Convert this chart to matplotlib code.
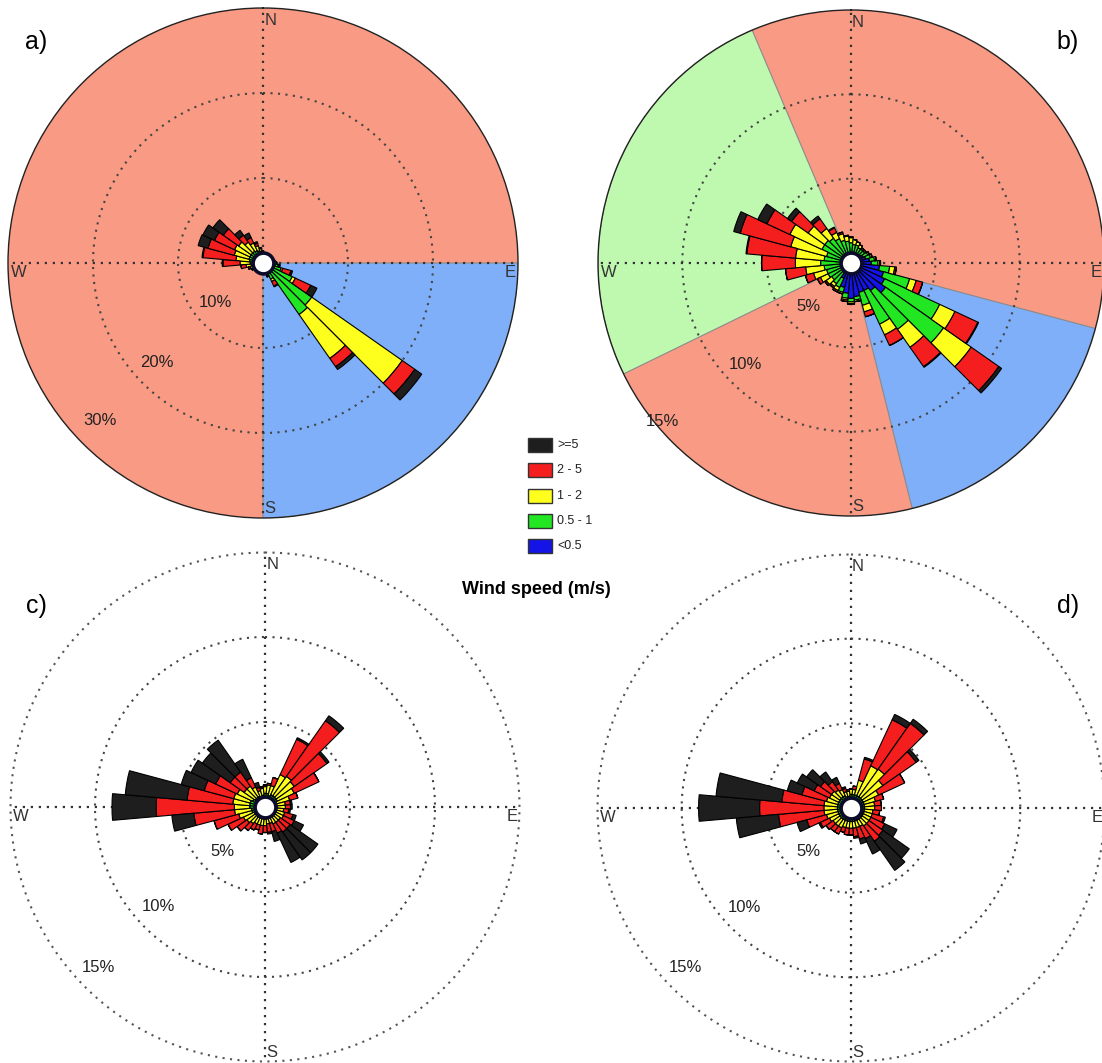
import numpy as np
import matplotlib
matplotlib.use("Agg")
import matplotlib.pyplot as plt
from matplotlib.patches import Rectangle

plt.rcParams['font.family'] = ['Liberation Sans', 'DejaVu Sans']

W, H = 1102, 1063

# ---- Data: frequency (%) per 10-degree sector, one list per speed class ----
DIRS = np.arange(0, 360, 10)
CLASSES = ["<0.5", "0.5 - 1", "1 - 2", "2 - 5", ">=5"]
COLORS = ["#1414e6", "#22e622", "#ffff1e", "#f41e1e", "#1e1e1e"]

# a)
a_lt05 = [1.0, 1.0, 0.9, 0.9, 0.9, 1.0, 1.0, 1.1, 1.2, 1.3, 1.4, 1.4, 1.4, 1.4, 1.4, 1.3, 1.2, 1.1,
          1.0, 1.0, 0.9, 0.9, 0.9, 0.9, 0.9, 0.9, 0.9, 0.9, 0.9, 0.9, 0.9, 0.9, 0.9, 0.9, 1.0, 1.0]
a_05_1 = [0.3, 0.2, 0.2, 0.2, 0.2, 0.2, 0.2, 0.2, 0.2, 0.3, 0.4, 0.8, 2.4, 5.6, 6.0, 0.8, 0.3, 0.2,
          0.2, 0.2, 0.2, 0.2, 0.2, 0.2, 0.3, 0.4, 0.5, 0.6, 0.7, 0.8, 0.8, 0.8, 0.8, 0.7, 0.5, 0.4]
a_1_2 = [0.1, 0.0, 0.0, 0.0, 0.0, 0.0, 0.0, 0.0, 0.0, 0.0, 0.1, 0.2, 0.4, 13.0, 6.3, 0.3, 0.1, 0.0,
         0.0, 0.0, 0.0, 0.0, 0.0, 0.1, 0.2, 0.3, 0.6, 1.2, 1.6, 1.8, 2.0, 1.8, 1.3, 1.0, 0.6, 0.3]
a_2_5 = [0.0, 0.0, 0.0, 0.0, 0.0, 0.0, 0.0, 0.0, 0.0, 0.0, 0.1, 1.0, 2.0, 1.8, 1.2, 0.6, 0.1, 0.0,
         0.0, 0.0, 0.0, 0.0, 0.0, 0.0, 0.1, 0.2, 0.6, 2.0, 3.9, 3.2, 2.6, 2.2, 1.0, 0.7, 0.3, 0.1]
a_ge5 = [0.0, 0.0, 0.0, 0.0, 0.0, 0.0, 0.0, 0.0, 0.0, 0.0, 0.0, 0.2, 0.8, 1.0, 0.4, 0.1, 0.0, 0.0,
         0.0, 0.0, 0.0, 0.0, 0.0, 0.0, 0.0, 0.0, 0.0, 0.1, 0.1, 1.2, 1.5, 1.5, 0.7, 0.6, 0.2, 0.0]

# b)
b_lt05 = [0.6, 0.6, 0.6, 0.6, 0.6, 0.7, 0.8, 0.9, 1.1, 1.2, 1.7, 2.0, 2.2, 2.5, 2.0, 1.8, 1.8, 2.0,
          2.1, 1.8, 1.5, 1.0, 0.7, 0.6, 0.6, 0.6, 0.6, 0.6, 0.6, 0.6, 0.6, 0.6, 0.6, 0.6, 0.6, 0.6]
b_05_1 = [0.6, 0.5, 0.5, 0.4, 0.4, 0.3, 0.3, 0.3, 0.3, 0.4, 0.6, 1.6, 3.6, 4.2, 2.8, 2.2, 0.8, 0.2,
          0.2, 0.3, 0.3, 0.6, 0.8, 0.8, 0.9, 0.9, 1.0, 1.2, 1.0, 0.9, 1.3, 1.3, 1.2, 1.0, 0.8, 0.7]
b_1_2 = [0.3, 0.3, 0.2, 0.2, 0.1, 0.1, 0.1, 0.1, 0.1, 0.1, 0.3, 0.4, 1.0, 2.0, 1.3, 0.7, 0.4, 0.1,
         0.1, 0.1, 0.1, 0.2, 0.2, 0.4, 0.5, 0.8, 1.1, 1.5, 1.7, 2.2, 2.1, 1.2, 0.7, 0.4, 0.4, 0.3]
b_2_5 = [0.05, 0.0, 0.0, 0.0, 0.0, 0.0, 0.0, 0.0, 0.0, 0.05, 0.1, 0.4, 1.5, 2.0, 1.4, 0.7, 0.3, 0.0,
         0.05, 0.1, 0.0, 0.1, 0.1, 0.1, 0.2, 0.5, 1.2, 2.0, 2.9, 3.1, 1.5, 1.2, 0.7, 0.3, 0.1, 0.05]
b_ge5 = [0.0, 0.0, 0.0, 0.0, 0.0, 0.0, 0.0, 0.0, 0.0, 0.0, 0.0, 0.0, 0.05, 0.2, 0.05, 0.0, 0.0, 0.0,
         0.0, 0.0, 0.0, 0.0, 0.0, 0.0, 0.0, 0.0, 0.0, 0.0, 0.05, 0.4, 0.6, 0.3, 0.2, 0.05, 0.0, 0.0]

# c)
c_lt05 = [0.3] * 36
c_05_1 = [0.5, 0.5, 0.4, 0.5, 0.5, 0.5, 0.5, 0.4, 0.4, 0.4, 0.4, 0.4, 0.4, 0.4, 0.4, 0.4, 0.4, 0.4,
          0.4, 0.4, 0.4, 0.4, 0.4, 0.4, 0.4, 0.5, 0.5, 0.6, 0.6, 0.6, 0.5, 0.4, 0.4, 0.4, 0.3, 0.4]
c_1_2 = [0.4, 0.5, 0.6, 1.3, 1.4, 1.3, 1.1, 0.8, 0.5, 0.5, 0.4, 0.5, 0.5, 0.4, 0.4, 0.4, 0.3, 0.3,
         0.4, 0.4, 0.4, 0.4, 0.5, 0.6, 0.7, 0.8, 1.0, 0.9, 1.0, 1.0, 1.0, 0.8, 0.8, 0.6, 0.4, 0.4]
c_2_5 = [0.1, 0.1, 0.5, 2.3, 4.0, 2.35, 1.6, 0.5, 0.3, 0.3, 0.3, 0.5, 0.7, 0.7, 0.7, 0.6, 0.5, 0.5,
         0.4, 0.5, 0.3, 0.4, 0.5, 0.7, 1.0, 1.5, 2.4, 4.6, 2.7, 1.8, 1.4, 1.0, 1.0, 0.6, 0.2, 0.1]
c_ge5 = [0.0, 0.0, 0.0, 0.1, 0.35, 0.15, 0.0, 0.0, 0.1, 0.1, 0.1, 0.2, 0.6, 2.0, 2.0, 1.9, 0.6, 0.1,
         0.0, 0.0, 0.0, 0.0, 0.0, 0.0, 0.0, 0.0, 1.3, 2.6, 3.65, 1.4, 1.6, 2.0, 2.3, 1.2, 0.3, 0.0]

# d)
d_lt05 = [0.3] * 36
d_05_1 = [0.5, 0.5, 0.5, 0.5, 0.5, 0.5, 0.5, 0.5, 0.5, 0.5, 0.5, 0.5, 0.5, 0.5, 0.5, 0.5, 0.5, 0.5,
          0.5, 0.5, 0.5, 0.5, 0.5, 0.5, 0.5, 0.5, 0.5, 0.5, 0.5, 0.5, 0.5, 0.5, 0.5, 0.5, 0.4, 0.4]
d_1_2 = [0.3, 0.3, 0.9, 1.95, 2.0, 1.5, 1.0, 0.7, 0.6, 0.6, 0.5, 0.5, 0.5, 0.5, 0.5, 0.4, 0.4, 0.4,
         0.4, 0.4, 0.4, 0.5, 0.5, 0.5, 0.6, 0.7, 0.8, 0.8, 0.8, 0.7, 0.6, 0.6, 0.5, 0.4, 0.3, 0.3]
d_2_5 = [0.05, 0.2, 1.3, 3.0, 3.3, 2.4, 1.7, 0.5, 0.4, 0.4, 0.4, 0.7, 0.9, 1.0, 1.1, 0.8, 0.7, 0.5,
         0.4, 0.4, 0.3, 0.4, 0.4, 0.5, 0.6, 1.2, 2.7, 3.8, 2.5, 1.5, 1.0, 0.8, 0.6, 0.4, 0.2, 0.1]
d_ge5 = [0.0, 0.0, 0.1, 0.35, 0.3, 0.2, 0.0, 0.0, 0.0, 0.0, 0.0, 0.1, 0.8, 1.9, 2.1, 1.0, 0.3, 0.1,
         0.0, 0.0, 0.0, 0.0, 0.0, 0.0, 0.1, 0.6, 2.5, 3.6, 3.9, 0.9, 1.1, 1.0, 0.7, 0.4, 0.1, 0.0]

SALMON = "#f99a84"
BLUE_BG = "#7eaff8"
GREEN_BG = "#bff9b0"

# background sectors (start deg, end deg, colour)
a_sectors = [(90, 180, BLUE_BG)]
b_sectors = [(105, 166, BLUE_BG), (244, 337, GREEN_BG)]


def px_rect(cx, cy, r):
    return [(cx - r) / W, 1 - (cy + r) / H, 2 * r / W, 2 * r / H]


DOT = (0, (1, 2.6))


def draw_rose(rect, stacks, rmax, rings, lab_r, lab_ang, bg, sectors, tag, tag_xy):
    ax = fig.add_axes(rect, projection="polar")
    ax.set_theta_zero_location("N")
    ax.set_theta_direction(-1)
    ax.set_ylim(0, rmax)
    ax.set_xticks([])
    ax.set_yticks([])
    ax.grid(False)
    th = np.linspace(0, 2 * np.pi, 400)
    if bg is not None:
        ax.set_facecolor(bg)
        ax.spines["polar"].set_color("#222222")
        ax.spines["polar"].set_linewidth(1.0)
    else:
        ax.set_facecolor("none")
        ax.spines["polar"].set_visible(False)
        ax.plot(th, np.full_like(th, rmax * 0.998), ls=DOT, color="#555555", lw=1.5,
                clip_on=False, zorder=1)
    for s, e, col in sectors:
        ax.bar(np.deg2rad((s + e) / 2), rmax, width=np.deg2rad(e - s), bottom=0,
               color=col, edgecolor="#8a8a8a", linewidth=0.8, zorder=0.5)
    for r in rings[:-1]:
        ax.plot(th, np.full_like(th, r), ls=DOT, color="#444444", lw=1.5, zorder=1)
    for a in (0, 90, 180, 270):
        ax.plot([np.deg2rad(a)] * 2, [0, rmax], ls=DOT, color="#333333", lw=1.6, zorder=1)

    bottom = np.zeros(len(DIRS))
    for vals, col in zip(stacks, COLORS):
        vals = np.asarray(vals, dtype=float)
        ax.bar(np.deg2rad(DIRS), vals, width=np.deg2rad(10), bottom=bottom, color=col,
               edgecolor="black", linewidth=0.8, zorder=3)
        bottom += vals
    ax.plot([0], [0], "o", ms=15, mfc="white", mec="#0c0c2a", mew=2.6, zorder=10, clip_on=False)

    for r, ang, ring in zip(lab_r, lab_ang, rings):
        ax.text(np.deg2rad(ang), r, f"{ring}%", ha="center", va="center", fontsize=12,
                color="#222222", zorder=4)
    for txt, x, y, ha in (("N", 0.514, 0.975, "center"), ("S", 0.514, 0.018, "center"),
                          ("W", 0.006, 0.481, "left"), ("E", 0.995, 0.481, "right")):
        ax.text(x, y, txt, transform=ax.transAxes, ha=ha, va="center", fontsize=12,
                color="#333333", zorder=4)
    fig.text(tag_xy[0] / W, 1 - tag_xy[1] / H, tag, fontsize=18, ha="center", va="center")
    return ax


fig = plt.figure(figsize=(W / 100, H / 100), dpi=100)

draw_rose(px_rect(263, 263, 255), [a_lt05, a_05_1, a_1_2, a_2_5, a_ge5], 30, [10, 20, 30],
          [7.3, 17.1, 26.6], [230, 227, 226], SALMON, a_sectors, "a)", (36, 42))
draw_rose(px_rect(851, 263, 253), [b_lt05, b_05_1, b_1_2, b_2_5, b_ge5], 15, [5, 10, 15],
          [3.6, 8.7, 14.6], [224, 226, 230], SALMON, b_sectors, "b)", (1068, 42))
draw_rose(px_rect(265, 807, 255), [c_lt05, c_05_1, c_1_2, c_2_5, c_ge5], 15, [5, 10, 15],
          [3.6, 8.6, 13.6], [224, 227, 226], None, [], "c)", (36, 606))
draw_rose(px_rect(851, 808, 254), [d_lt05, d_05_1, d_1_2, d_2_5, d_ge5], 15, [5, 10, 15],
          [3.6, 8.6, 13.6], [224, 227, 226], None, [], "d)", (1068, 606))

# ---- legend ----
lax = fig.add_axes([515 / W, 1 - 560 / H, 105 / W, 130 / H])
lax.set_xlim(515, 620)
lax.set_ylim(560, 430)
lax.axis("off")
for i, (lab, col) in enumerate(zip(CLASSES[::-1], COLORS[::-1])):
    yc = 445 + i * 25.3
    lax.add_patch(Rectangle((528, yc - 7), 24, 14, facecolor=col, edgecolor="#333333", lw=1.0))
    lax.text(557, yc, lab, va="center", ha="left", fontsize=9, color="#222222")

fig.text(536 / W, 1 - 590 / H, "Wind speed (m/s)", ha="center", va="center",
         fontsize=13, fontweight="bold")

fig.savefig("out.png", dpi=100)
